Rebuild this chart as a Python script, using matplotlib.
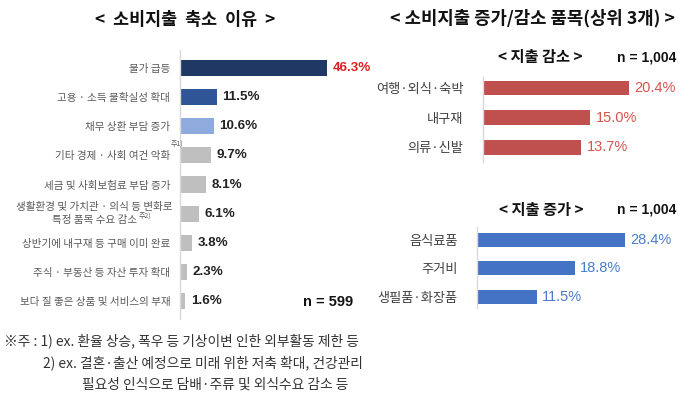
import matplotlib
matplotlib.use("Agg")
import matplotlib.pyplot as plt

plt.rcParams['font.family'] = ['Noto Sans CJK KR', 'DejaVu Sans']

# ---------------- data ----------------
reason_labels = ["물가 급등", "고용 · 소득 불확실성 확대", "채무 상환 부담 증가",
                 "기타 경제 · 사회 여건 악화", "세금 및 사회보험료 부담 증가",
                 "생활환경 및 가치관 · 의식 등 변화로\n특정 품목 수요 감소",
                 "상반기에 내구재 등 구매 이미 완료", "주식 · 부동산 등 자산 투자 확대",
                 "보다 질 좋은 상품 및 서비스의 부재"]
reason_values = [46.3, 11.5, 10.6, 9.7, 8.1, 6.1, 3.8, 2.3, 1.6]
reason_colors = ["#1F3864", "#2F5597", "#8FAADC", "#BFBFBF", "#BFBFBF",
                 "#BFBFBF", "#BFBFBF", "#BFBFBF", "#BFBFBF"]

dec_labels = ["여행·외식·숙박", "내구재", "의류·신발"]
dec_values = [20.4, 15.0, 13.7]

inc_labels = ["음식료품", "주거비", "생필품·화장품"]
inc_values = [28.4, 18.8, 11.5]

W, H = 700, 393
fig = plt.figure(figsize=(W / 100, H / 100), dpi=100)

def add_ax(x0, y0, x1, y1):
    return fig.add_axes([x0 / W, 1 - y1 / H, (x1 - x0) / W, (y1 - y0) / H])

def fx(x):
    return x / W

def fy(y):
    return 1 - y / H

LAT = ['Liberation Sans', 'DejaVu Sans']

def style_axis(ax):
    for s in ['top', 'right', 'bottom']:
        ax.spines[s].set_visible(False)
    ax.spines['left'].set_color('#D9D9D9')
    ax.spines['left'].set_linewidth(1.0)
    ax.set_xticks([])
    ax.tick_params(axis='y', length=0)
    ax.set_facecolor('none')

# ---------------- left panel ----------------
axL = add_ax(180, 50, 339, 319)
ypos = list(range(len(reason_values)))
axL.barh(ypos, reason_values, height=0.55, color=reason_colors)
axL.set_xlim(0, 50)
axL.set_ylim(8.6, -0.6)
style_axis(axL)
axL.set_yticks(ypos)
tick_texts = [("" if "\n" in s else s) for s in reason_labels]
axL.set_yticklabels(tick_texts, fontsize=7.6, color='#595959')
axL.tick_params(axis='y', pad=7)
for i, v in enumerate(reason_values):
    axL.annotate(f"{v:.1f}%", (v, i), xytext=(4, 0), textcoords='offset points',
                 va='center', ha='left', fontsize=9.6, fontweight='bold',
                 family=LAT, color='#E02020' if i == 0 else '#222222')

# two-line label drawn as separate lines (second line centred under first)
renderer = fig.canvas.get_renderer()
for i, s in enumerate(reason_labels):
    if "\n" in s:
        l1, l2 = s.split("\n")
        t1 = fig.text(fx(173), fy(50 + (i + 0.6) * 29.24 - 6.5), l1, ha='right', va='center',
                      fontsize=7.6, color='#595959')
        bb = t1.get_window_extent(renderer)
        cx = (bb.x0 + bb.x1) / 2
        t2 = fig.text(cx / W, fy(50 + (i + 0.6) * 29.24 + 6), l2, ha='center', va='center',
                      fontsize=7.6, color='#595959')
        bb2 = t2.get_window_extent(renderer)
        fig.text((bb2.x1 + 1) / W, fy(50 + (i + 0.6) * 29.24 + 2.5), "주2)", fontsize=5,
                 color='#595959', ha='left', va='center')

fig.text(fx(185), fy(20), "<  소비지출  축소  이유  >", ha='center', va='center',
         fontsize=12.5, fontweight='bold', color='#111111')
fig.text(fx(171), fy(145), "주1)", fontsize=5, color='#595959', ha='left', va='center')
fig.text(fx(303), fy(302), "n = 599", ha='left', va='center', fontsize=10.5,
         fontweight='bold', family=LAT, color='#111111')

foot_kw = dict(fontsize=9.9, color='#333333', ha='left', va='center')
fig.text(fx(4), fy(341), "※주 : 1) ex. 환율 상승, 폭우 등 기상이변 인한 외부활동 제한 등", **foot_kw)
fig.text(fx(43), fy(363), "2) ex. 결혼·출산 예정으로 미래 위한 저축 확대, 건강관리", **foot_kw)
fig.text(fx(82), fy(385), "필요성 인식으로 담배·주류 및 외식수요 감소 등", **foot_kw)

# ---------------- right top (decrease) ----------------
axD = add_ax(483, 77, 662, 162)
yd = list(range(len(dec_values)))
axD.barh(yd, dec_values, height=0.5, color='#C0504D')
axD.set_xlim(0, 25)
axD.set_ylim(2.5, -0.37)
style_axis(axD)
axD.set_yticks(yd)
axD.set_yticklabels(dec_labels, fontsize=9.5, color='#404040')
axD.tick_params(axis='y', pad=14)
for i, v in enumerate(dec_values):
    axD.annotate(f"{v:.1f}%", (v, i), xytext=(4, 0), textcoords='offset points',
                 va='center', ha='left', fontsize=10.5, family=LAT, color='#D9534F')

fig.text(fx(532), fy(18), "< 소비지출 증가/감소 품목(상위 3개) >", ha='center', va='center',
         fontsize=12.8, fontweight='bold', color='#111111')
fig.text(fx(540), fy(57), "< 지출 감소 >", ha='center', va='center',
         fontsize=11, fontweight='bold', color='#111111')
fig.text(fx(617), fy(57), "n = 1,004", ha='left', va='center', fontsize=10,
         fontweight='bold', family=LAT, color='#111111')

# ---------------- right bottom (increase) ----------------
axI = add_ax(477, 227, 685, 308)
yi = list(range(len(inc_values)))
axI.barh(yi, inc_values, height=0.5, color='#4472C4')
axI.set_xlim(0, 40)
axI.set_ylim(2.4, -0.45)
style_axis(axI)
axI.set_yticks(yi)
axI.set_yticklabels(inc_labels, fontsize=9.5, color='#404040')
axI.tick_params(axis='y', pad=14)
for i, v in enumerate(inc_values):
    axI.annotate(f"{v:.1f}%", (v, i), xytext=(4, 0), textcoords='offset points',
                 va='center', ha='left', fontsize=10.5, family=LAT, color='#4A7CC9')

fig.text(fx(541), fy(210), "< 지출 증가 >", ha='center', va='center',
         fontsize=11, fontweight='bold', color='#111111')
fig.text(fx(617), fy(210), "n = 1,004", ha='left', va='center', fontsize=10,
         fontweight='bold', family=LAT, color='#111111')

fig.savefig("out.png", dpi=100)
